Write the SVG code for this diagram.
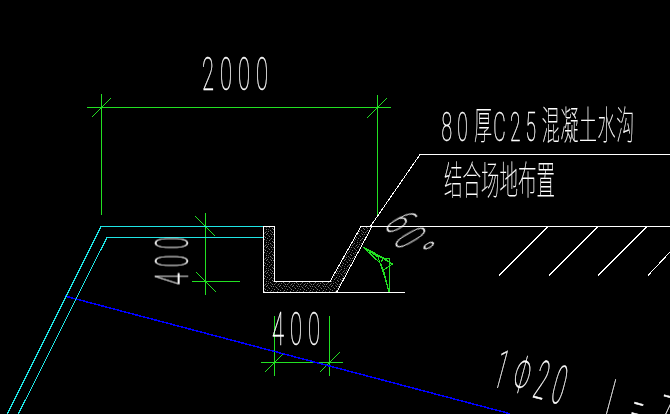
<svg xmlns="http://www.w3.org/2000/svg" width="670" height="414" viewBox="0 0 670 414">
<style>
path{shape-rendering:crispEdges}
.w{stroke:#fff;fill:none;stroke-width:1}
.g{stroke:#22e022;fill:none;stroke-width:1}
.c{stroke:#1fe6e6;fill:none;stroke-width:1}
.t{fill:#fff;stroke:#fff;stroke-width:.35px;font-family:"Roboto","Noto Sans CJK SC",sans-serif;font-weight:100;font-size:40px}
.s{letter-spacing:10.800px}
.z{fill:#fff;stroke:#fff;stroke-width:.15px;font-family:"Noto Sans CJK SC",sans-serif;font-weight:100;font-size:30px}
#labels{opacity:.999}
</style>
<defs>
<pattern id="h" width="13" height="13" patternUnits="userSpaceOnUse">
<rect width="13" height="13" fill="#000"/>
<path stroke="#777" stroke-width="1" d="M0 .5h1M3 1.5h1M6 .5h1M9 2.5h1M11 .5h1M1 3.5h1M5 3.5h1M7 4.5h1M11 4.5h1M2 6.5h1M4 5.5h1M9 6.5h1M12 7.5h1M0 8.5h1M6 8.5h1M3 9.5h1M8 10.500h1M10 9.5h1M1 11.5h1M5 11.5h1M12 11.5h1M7 12.5h1"/>
<path stroke="#444" stroke-width="1" d="M2 .5h1M8 1.5h1M4 2.5h1M12 2.5h1M0 5.5h1M6 6.5h1M10 5.5h1M3 7.5h1M8 8.5h1M11 10.5h1M2 10.5h1M6 10.5h1M4 12.5h1M10 12.5h1"/>
</pattern>
</defs>
<rect width="670" height="414" fill="#000"/>
<g id="concrete"><path d="M264 226H275V281H330L361 226H372L337 292H264Z" fill="url(#h)"/></g>
<g id="connectors">
<path class="g" d="M87 107.500H391M101.500 94V215M377.500 95V215M92 117L111 98M367 118L387 98"/>
<path class="g" d="M205.500 213V295M192 281.500H240M195 216L215 236M196 272L216 292"/>
<path class="g" d="M274.500 316V376M329.500 316V376M261 362.500H343M265 372L284 353M320 372L340 352"/>
<path class="g" d="M363 247L392.500 264L383.500 270L389 292M363 247L381 264L389 292M363 247L384 258H389M381 262L384 258L392 264M389 258V292.500M363 247L378 257L387 284"/>
<path d="M65 296.100L510 413.700" stroke="#0000ff" stroke-width="1.500" fill="none"/>
<path class="c" d="M263 226.500H101L7.300 414M263 237.500H107L18.300 414"/>
<path class="w" d="M263.500 226V292.500H405M263.500 226.500H274.500V281.500H330L361 226.500H670M336.500 292.500L372 226.500M370 227L420 154.500H670"/>
<path class="w" d="M548 226.500L499 275.500M598 226.500L549 275.500M647 226.500L598 275.500M670 252L648 275.500"/>
</g>
<g id="labels">
<text class="t s" transform="translate(202 90) scale(.55 1.16)">2000</text>
<text class="t s" transform="translate(188 285) rotate(-90) scale(.55 1.16)">400</text>
<text class="t s" transform="translate(272 345) scale(.55 1.16)">400</text>
<text class="t s" transform="translate(384 225) rotate(60) scale(.55 1.16)">60°</text>
<text class="t" transform="translate(491 386) rotate(15) scale(.55 1.35)" x="0 36 76 109">1Φ20</text>
<text class="t" transform="translate(603 418) rotate(15) scale(.55 1.35)" x="0 45 95">l=7</text>
<text class="t" style="font-size:32px" transform="translate(441 140.700) scale(.6 1.28)" x="1 27 87 115 141">80C25</text>
<text class="z" transform="translate(441 139) scale(.6 1.28)" x="55 168 199 230 261 292">厚混凝土水沟</text>
<text class="z" transform="translate(444 193.500) scale(.617 1.28)">结合场地布置</text>
</g>
</svg>
